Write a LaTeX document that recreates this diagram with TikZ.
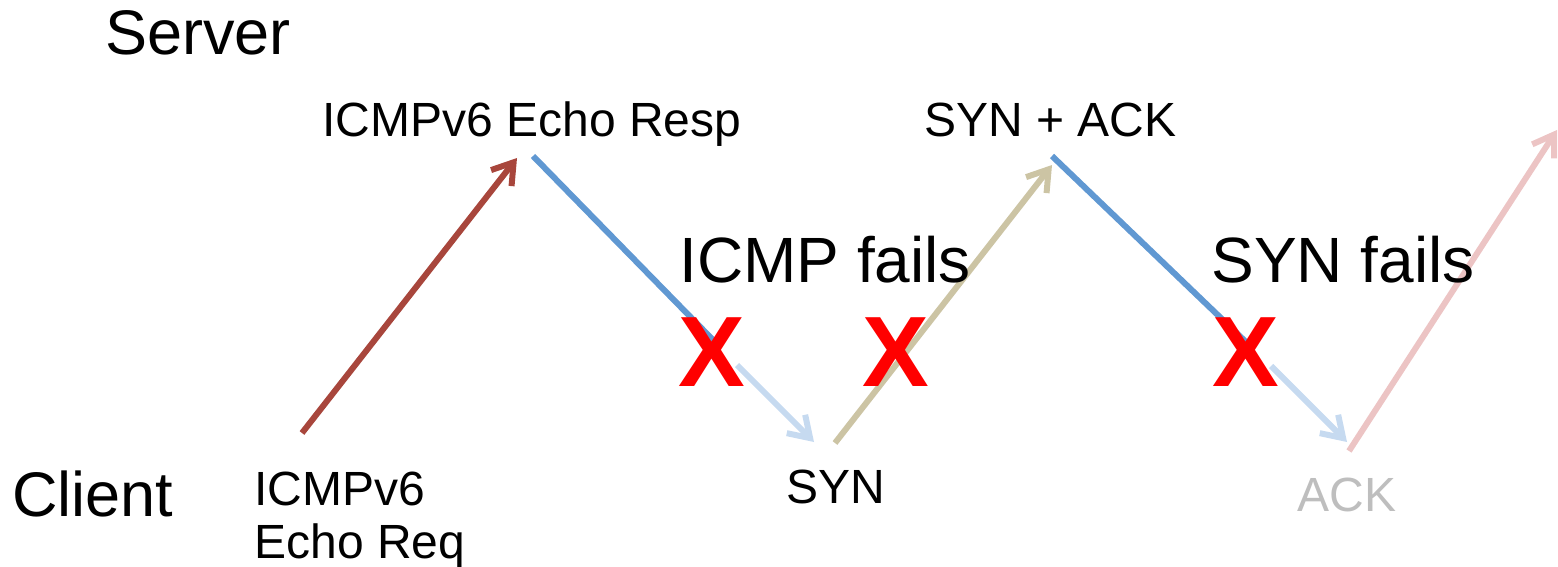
\documentclass[tikz,border=0pt]{standalone}
\usepackage{fontspec}
\setmainfont{Liberation Sans}
\usetikzlibrary{arrows.meta}
\definecolor{redarrow}{RGB}{168,70,60}
\definecolor{bluedark}{RGB}{96,152,210}
\definecolor{bluelight}{RGB}{198,218,240}
\definecolor{tan}{RGB}{204,196,164}
\definecolor{pinklight}{RGB}{236,196,196}
\definecolor{acktext}{RGB}{190,190,190}
\definecolor{xred}{RGB}{255,0,0}
\tikzset{
  lbl/.style={inner sep=0pt, anchor=base west},
  small/.style={font=\fontsize{24pt}{28pt}\selectfont},
  big/.style={font=\fontsize{31.5pt}{36pt}\selectfont},
  huge/.style={font=\fontsize{32pt}{38pt}\selectfont},
  cross/.style={inner sep=0pt, text=xred, font=\fontsize{50pt}{54pt}\selectfont\bfseries},
  msg/.style={line width=3pt, -{Straight Barb[length=10pt,width=13pt]}},
  plain/.style={line width=3pt},
}
\begin{document}
\begin{tikzpicture}[x=0.5pt,y=-0.5pt]
\useasboundingbox (0,0) rectangle (1558,567);
\clip (0,0) rectangle (1558,567);
% coordinates
\coordinate (reqS) at (302,433);
\coordinate (reqE) at (517,158);
\coordinate (respS) at (533,156);
\coordinate (respM) at (714,341);
\coordinate (respL) at (737,365);
\coordinate (respE) at (814,442);
\coordinate (synS) at (835,443);
\coordinate (synE) at (1052,165);
\coordinate (saS) at (1052,156);
\coordinate (saM) at (1248,344);
\coordinate (saL) at (1271,366);
\coordinate (saE) at (1347,442);
\coordinate (ackS) at (1349,451);
\coordinate (ackE) at (1557,130);
% connectors
\draw[msg, redarrow] (reqS) -- (reqE);
\draw[plain, bluedark] (respS) -- (respM);
\draw[msg, bluelight] (respL) -- (respE);
\draw[msg, tan] (synS) -- (synE);
\draw[plain, bluedark] (saS) -- (saM);
\draw[msg, bluelight] (saL) -- (saE);
\draw[msg, pinklight] (ackS) -- (ackE);
% labels
\node[lbl, big] (server) at (105,55) {Server};
\node[lbl, big] (client) at (12,516) {Client};
\node[lbl, small] (resp) at (322,136) {ICMPv6 Echo Resp};
\node[lbl, small] (synack) at (924,136) {SYN + ACK};
\node[lbl, small] (req1) at (254,505) {ICMPv6};
\node[lbl, small] (req2) at (254,558) {Echo Req};
\node[lbl, small] (syn) at (786,503) {SYN};
\node[lbl, small, text=acktext] (ack) at (1297,511) {ACK};
\node[lbl, huge] (icmpfail) at (679,282) {ICMP fails};
\node[lbl, huge] (synfail) at (1211,282) {SYN fails};
% crosses
\node[cross] (x1) at (712,352) {X};
\node[cross] (x2) at (896,352) {X};
\node[cross] (x3) at (1246,352) {X};
\end{tikzpicture}
\end{document}
